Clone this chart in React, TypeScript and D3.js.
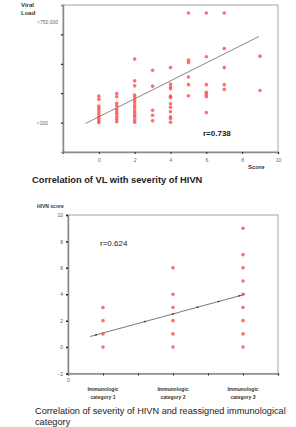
import React from 'react';
import * as d3 from 'd3';

// top chart: viral load (log-ish rank units) vs HIVN score
const vlScores = [0, 1, 2, 3, 4, 5, 6, 7, 9];
const vlLevels: number[][] = [
  [1.9, 1.79, 1.56, 1.48, 1.4, 1.31, 1.22, 1.14, 1.06, 1.0],
  [1.99, 1.88, 1.66, 1.57, 1.45, 1.37, 1.29, 1.2, 1.11, 1.03],
  [3.16, 2.42, 2.25, 1.94, 1.86, 1.77, 1.69, 1.6, 1.52, 1.43, 1.34, 1.26, 1.19, 1.09, 1.01],
  [2.78, 2.24, 1.42, 1.25, 1.06],
  [2.87, 2.31, 2.22, 2.15, 1.9, 1.85, 1.64, 1.52, 1.37, 1.2, 1.14, 1.01],
  [4.73, 3.13, 3.04, 2.55, 2.29, 1.91],
  [4.73, 3.24, 2.29, 2.03, 1.96, 1.88, 1.34],
  [4.73, 3.52, 2.87, 2.29, 2.13],
  [3.26, 2.09],
];
const vlFitX = [-0.74, 8.94];
const vlFitY = [0.97, 3.93];
const vlXTicks = [-2, 0, 2, 4, 6, 8, 10];
const vlYTicks = [1, 2, 3, 4];
const vlYTickLabels: { [k: number]: string } = { 1: '<200' };

// bottom chart: HIVN score vs immunological category
const catPositions = [1, 3, 5];
const catNames = [['Immunologic', 'category 1'], ['Immunologic', 'category 2'], ['Immunologic', 'category 3']];
const catScores: number[][] = [
  [3, 2, 1, 0],
  [6, 4, 3, 2, 1, 0],
  [9, 7, 6, 5, 4, 3, 2, 1, 0],
];
const catFitX = [0.63, 5.06];
const catFitY = [0.8, 4.0];
const catFitMarks = [0.8, 2.2, 3.0, 3.7, 4.3, 4.9];
const catXTicks = [0, 1, 2, 3, 4, 5, 6];
const catYTicks = [-2, 0, 2, 4, 6, 8, 10];

const font = 'Arial, "Liberation Sans", sans-serif';
const pointColor = '#ff4a4a';

type AnySelection = d3.Selection<any, unknown, null, undefined>;

const App: React.FC = () => {
  const svgRef = React.useRef<SVGSVGElement>(null);

  React.useEffect(() => {
    const svg = d3.select(svgRef.current);
    svg.selectAll('*').remove();

    // ---------- top chart ----------
    const x1 = d3.scaleLinear().domain([-2, 10]).range([63, 278]);
    const y1 = d3.scaleLinear().domain([0, 5]).range([152, 5]);
    const top = svg.append('g');

    top.append('rect')
      .attr('x', x1(-2)).attr('y', y1(5))
      .attr('width', x1(10) - x1(-2)).attr('height', y1(0) - y1(5))
      .attr('fill', 'none').attr('stroke', '#b5b5b5').attr('stroke-width', 1.2);

    top.append('g')
      .attr('transform', `translate(0, ${y1(0)})`)
      .call(d3.axisBottom(x1).tickValues(vlXTicks).tickSize(2)
        .tickFormat((d: any) => (d === -2 ? '' : String(d))))
      .call((g: AnySelection) => {
        g.select('.domain').attr('stroke', '#8a8a8a').attr('stroke-width', 1.5);
        g.selectAll('line').attr('stroke', '#222');
        g.selectAll('text').attr('font-size', 5).attr('fill', '#666').attr('font-family', font).attr('dy', '0.9em');
      });

    top.append('g')
      .attr('transform', `translate(${x1(-2)}, 0)`)
      .call(d3.axisLeft(y1).tickValues(vlYTicks).tickSize(2)
        .tickFormat((d: any) => vlYTickLabels[d] || ''))
      .call((g: AnySelection) => {
        g.select('.domain').attr('stroke', '#8a8a8a').attr('stroke-width', 1.5);
        g.selectAll('line').attr('stroke', '#222').attr('stroke-width', 1.2);
        g.selectAll('text').attr('font-size', 5).attr('fill', '#666').attr('font-family', font).attr('x', -15);
      });

    top.append('text')
      .attr('x', 58).attr('y', y1(4.4)).attr('dy', '0.35em')
      .attr('text-anchor', 'end').attr('font-size', 5).attr('fill', '#666').attr('font-family', font)
      .text('>750,000');

    top.append('text')
      .attr('x', 21).attr('y', 7)
      .attr('font-size', 6).attr('font-weight', 'bold').attr('fill', '#333').attr('font-family', font)
      .call((t: AnySelection) => {
        t.append('tspan').attr('x', 21).attr('dy', 0).text('Viral');
        t.append('tspan').attr('x', 21).attr('dy', 8).text('Load');
      });

    top.append('line')
      .attr('x1', x1(vlFitX[0])).attr('y1', y1(vlFitY[0]))
      .attr('x2', x1(vlFitX[1])).attr('y2', y1(vlFitY[1]))
      .attr('stroke', '#777').attr('stroke-width', 0.9);

    vlScores.forEach((s, i) => {
      top.append('g').selectAll('circle')
        .data(vlLevels[i])
        .join('circle')
          .attr('cx', x1(s))
          .attr('cy', (d: number) => y1(d))
          .attr('r', 1.8)
          .attr('fill', pointColor)
          .attr('fill-opacity', 0.8);
    });

    top.append('text')
      .attr('x', 203).attr('y', 136)
      .attr('font-size', 8).attr('font-weight', 'bold').attr('fill', '#222').attr('font-family', font)
      .text('r=0.738');

    top.append('text')
      .attr('x', 248).attr('y', 169)
      .attr('font-size', 6).attr('font-weight', 'bold').attr('fill', '#333').attr('font-family', font)
      .text('Score');

    top.append('text')
      .attr('x', 32).attr('y', 183)
      .attr('font-size', 9.3).attr('font-weight', 'bold').attr('fill', '#222').attr('font-family', font)
      .text('Correlation of VL with severity of HIVN');

    // ---------- bottom chart ----------
    const x2 = d3.scaleLinear().domain([0, 6]).range([68, 278]);
    const y2 = d3.scaleLinear().domain([-2, 10]).range([373.5, 215]);
    const bot = svg.append('g');

    bot.append('rect')
      .attr('x', x2(0)).attr('y', y2(10))
      .attr('width', x2(6) - x2(0)).attr('height', y2(-2) - y2(10))
      .attr('fill', 'none').attr('stroke', '#b5b5b5').attr('stroke-width', 1.2);

    bot.append('g')
      .attr('transform', `translate(0, ${y2(-2)})`)
      .call(d3.axisBottom(x2).tickValues(catXTicks).tickSize(2)
        .tickFormat((d: any) => (d === 0 ? '0' : '')))
      .call((g: AnySelection) => {
        g.select('.domain').attr('stroke', '#8a8a8a').attr('stroke-width', 1.5);
        g.selectAll('line').attr('stroke', '#222');
        g.selectAll('text').attr('font-size', 5).attr('fill', '#555').attr('font-family', font).attr('dy', '0.7em');
      });

    bot.append('g')
      .attr('transform', `translate(${x2(0)}, 0)`)
      .call(d3.axisLeft(y2).tickValues(catYTicks).tickSize(2))
      .call((g: AnySelection) => {
        g.select('.domain').attr('stroke', '#8a8a8a').attr('stroke-width', 1.5);
        g.selectAll('line').attr('stroke', '#222').attr('stroke-width', 1.5);
        g.selectAll('text').attr('font-size', 5).attr('fill', '#555').attr('font-family', font).attr('x', -5);
      });

    bot.append('text')
      .attr('x', 37).attr('y', 208)
      .attr('font-size', 5).attr('font-weight', 'bold').attr('fill', '#333').attr('font-family', font)
      .text('HIVN score');

    bot.append('line')
      .attr('x1', x2(catFitX[0])).attr('y1', y2(catFitY[0]))
      .attr('x2', x2(catFitX[1])).attr('y2', y2(catFitY[1]))
      .attr('stroke', '#555').attr('stroke-width', 0.8);

    const fitY = d3.scaleLinear().domain(catFitX).range(catFitY);
    bot.append('g').selectAll('rect')
      .data(catFitMarks)
      .join('rect')
        .attr('x', (d: number) => x2(d) - 0.9)
        .attr('y', (d: number) => y2(fitY(d)) - 0.7)
        .attr('width', 1.8).attr('height', 1.4)
        .attr('fill', '#333');

    catPositions.forEach((c, i) => {
      bot.append('g').selectAll('circle')
        .data(catScores[i])
        .join('circle')
          .attr('cx', x2(c))
          .attr('cy', (d: number) => y2(d))
          .attr('r', 1.8)
          .attr('fill', pointColor)
          .attr('fill-opacity', 0.8);

      bot.append('text')
        .attr('text-anchor', 'middle')
        .attr('font-size', 5).attr('font-weight', 'bold').attr('fill', '#333').attr('font-family', font)
        .call((t: AnySelection) => {
          t.append('tspan').attr('x', x2(c)).attr('y', 391).text(catNames[i][0]);
          t.append('tspan').attr('x', x2(c)).attr('y', 398.5).text(catNames[i][1]);
        });
    });

    bot.append('text')
      .attr('x', 100).attr('y', 245.5)
      .attr('font-size', 8).attr('fill', '#222').attr('font-family', font)
      .text('r=0.624');

    bot.append('text')
      .attr('font-size', 9.2).attr('fill', '#222').attr('font-family', font)
      .call((t: AnySelection) => {
        t.append('tspan').attr('x', 35).attr('y', 413.5).text('Correlation of severity of HIVN and reassigned immunological');
        t.append('tspan').attr('x', 35).attr('y', 424.5).text('category');
      });
  }, []);

  return (
    <svg
      ref={svgRef}
      width={296}
      height={427}
      style={{ position: 'absolute', left: 0, top: 0, background: '#fff' }}
    />
  );
};

export default App;
